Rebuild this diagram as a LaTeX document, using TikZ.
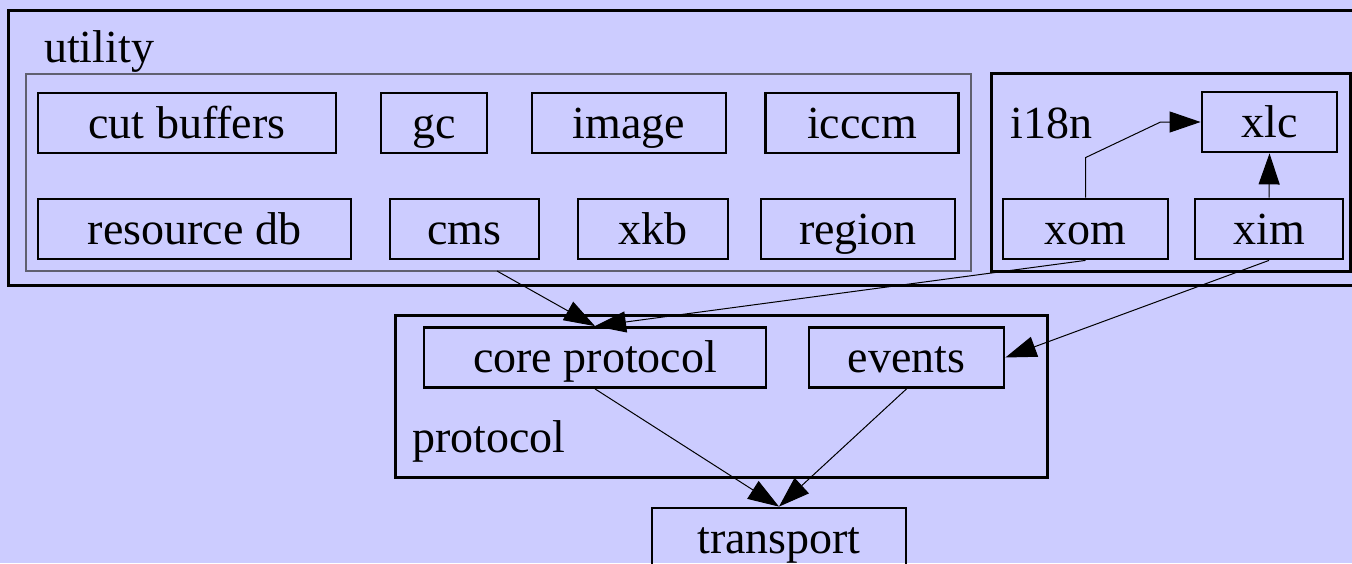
\documentclass[tikz,border=0pt]{standalone}
\usepackage{fontspec}
\setmainfont{Liberation Serif}
\usetikzlibrary{arrows.meta}
\definecolor{bgblue}{HTML}{CCCCFF}
\definecolor{grpgray}{HTML}{606070}

\begin{document}
\begin{tikzpicture}[x = 1pt, y = -1pt,
                    font = \fontsize{46}{50}\selectfont,
                    comp/.style = {rectangle,
                                   draw,
                                   black,
                                   line width = 2.8pt,
                                   inner sep = 0pt,
                                   text = black,
                                   text height = 34pt,
                                   text depth = 4pt,
                                   minimum height = 60pt},
                    grp/.style  = {draw, black, line width = 3pt},
                    sub/.style  = {draw, grpgray, line width = 1.4pt},
                    lbl/.style  = {anchor = base west, inner sep = 0pt},
                    edge/.style = {draw, line width = 1pt,
                                   -{Triangle[length = 31pt, width = 21pt]}}]

\fill[bgblue] (0,0) rectangle (1352,563);
\useasboundingbox (0,0) rectangle (1352,563);
\clip (0,0) rectangle (1352,563);

\draw[grp] (8,10) rectangle (1362,285);
\draw[sub] (26,74) rectangle (971,271);
\draw[grp] (991,73) rectangle (1350,271);
\draw[grp] (395,315) rectangle (1047,477);

\node[lbl] (utillbl)  at (44,62)   {utility};
\node[lbl] (i18nlbl)  at (1010,138) {i18n};
\node[lbl] (protolbl) at (412,452) {protocol};

\node[comp, minimum width = 298pt] (cutbuf) at (187,123)   {cut buffers};
\node[comp, minimum width = 106pt] (gc)     at (434,123)   {gc};
\node[comp, minimum width = 194pt] (image)  at (629,123)   {image};
\node[comp, minimum width = 193pt] (icccm)  at (862,123)   {icccm};

\node[comp, minimum width = 313pt] (resdb)  at (194.5,229) {resource db};
\node[comp, minimum width = 149pt] (cms)    at (464.5,229) {cms};
\node[comp, minimum width = 150pt] (xkb)    at (653,229)   {xkb};
\node[comp, minimum width = 194pt] (region) at (858,229)   {region};

\node[comp, minimum width = 135pt] (xlc)    at (1269.5,122) {xlc};
\node[comp, minimum width = 165pt] (xom)    at (1085.5,229) {xom};
\node[comp, minimum width = 148pt] (xim)    at (1269,229)   {xim};

\node[comp, minimum width = 342pt] (core)   at (595,357.5) {core protocol};
\node[comp, minimum width = 195pt] (events) at (906.5,357.5) {events};

\node[comp, minimum width = 254pt] (transport) at (779,538) {transport};

\coordinate (utilbot) at (497,271);

\path[edge] (xom.north) -- ++(0,-40) -- ([xshift = -40pt]xlc.west) -- (xlc.west);
\path[edge] (xim.north) -- (xlc.south);

\path[edge] (utilbot) -- (core.north);
\path[edge] (xom.south) -- (core.north);
\path[edge] (xim.south) -- (events.east);

\path[edge] (core.south) -- (transport.north);
\path[edge] (events.south) -- (transport.north);

\end{tikzpicture}
\end{document}
